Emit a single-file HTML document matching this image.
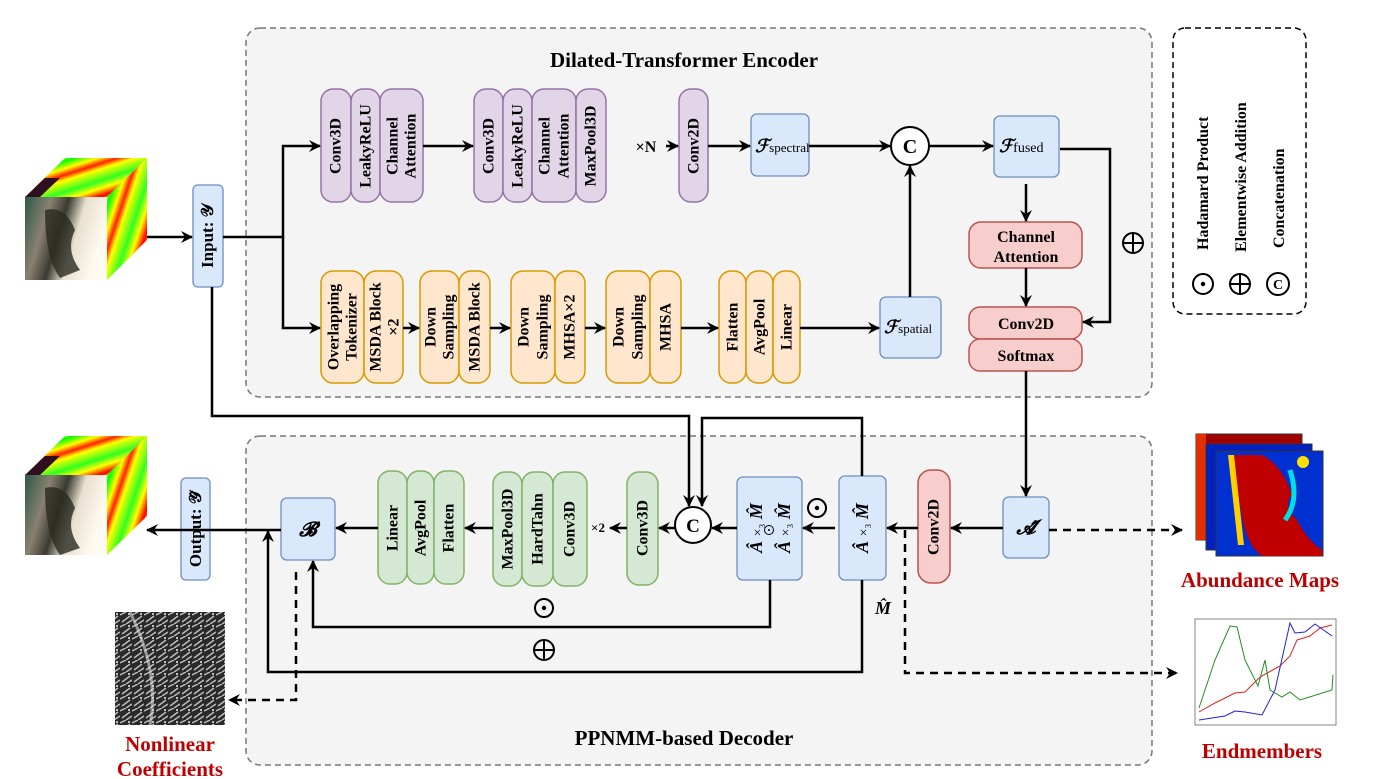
<!DOCTYPE html>
<html><head><meta charset="utf-8"><style>
html,body{margin:0;padding:0;background:#fff;}
svg{display:block;font-family:"Liberation Serif",serif;font-weight:bold;}
</style></head><body>
<svg width="1395" height="779" viewBox="0 0 1395 779" xmlns="http://www.w3.org/2000/svg">
<defs>
<marker id="ar" viewBox="0 0 12 12" refX="11" refY="6" markerWidth="12" markerHeight="12" markerUnits="userSpaceOnUse" orient="auto">
<path d="M0,0 L12,6 L0,12 L4,6 z" fill="#000"/></marker>
<linearGradient id="stripe" x1="0" y1="0" x2="1" y2="1">
<stop offset="0" stop-color="#ff0000"/><stop offset="0.12" stop-color="#ffff00"/><stop offset="0.2" stop-color="#00ff00"/><stop offset="0.3" stop-color="#ffff00"/><stop offset="0.38" stop-color="#ff2000"/><stop offset="0.45" stop-color="#ffff00"/><stop offset="0.6" stop-color="#30ff20"/><stop offset="0.7" stop-color="#ffff00"/><stop offset="0.8" stop-color="#ff0000"/><stop offset="0.9" stop-color="#ffff00"/><stop offset="1" stop-color="#00ff40"/></linearGradient>
<linearGradient id="front" x1="0" y1="0" x2="1" y2="0.3">
<stop offset="0" stop-color="#2c5a48"/><stop offset="0.3" stop-color="#8a8070"/><stop offset="0.5" stop-color="#3a3a30"/><stop offset="0.7" stop-color="#e8e0d0"/><stop offset="1" stop-color="#fffaf0"/></linearGradient>
<pattern id="noise" width="12" height="12" patternUnits="userSpaceOnUse">
<rect width="12" height="12" fill="#2a2a2a"/><path d="M0,3 L6,0 M2,10 L10,4 M6,12 L12,8" stroke="#bbb" stroke-width="1.5"/><circle cx="9" cy="2" r="1" fill="#eee"/></pattern>
</defs>

<rect x="246" y="28" width="906" height="369" rx="14" fill="#f4f4f4" stroke="#777" stroke-width="1.5" stroke-dasharray="6,4"/>
<rect x="246" y="436" width="906" height="329" rx="14" fill="#f4f4f4" stroke="#777" stroke-width="1.5" stroke-dasharray="6,4"/>
<text x="684" y="67" font-size="21" text-anchor="middle">Dilated-Transformer Encoder</text>
<text x="684" y="745" font-size="21" text-anchor="middle">PPNMM-based Decoder</text>

<rect x="1173" y="28" width="133" height="286" rx="12" fill="#fff" stroke="#000" stroke-width="1.5" stroke-dasharray="6,4"/>
<g font-size="16">
<text transform="translate(1208,250) rotate(-90)">Hadamard Product</text>
<text transform="translate(1246,252) rotate(-90)">Elementwise Addition</text>
<text transform="translate(1284,248) rotate(-90)">Concatenation</text>
</g>
<g stroke="#000" stroke-width="2" fill="none">
<circle cx="1203" cy="284" r="10"/><circle cx="1240" cy="284" r="10"/><line x1="1230" y1="284" x2="1250" y2="284"/><line x1="1240" y1="274" x2="1240" y2="294"/><circle cx="1278" cy="284" r="11"/>
</g>
<circle cx="1203" cy="284" r="2.2"/>
<text x="1278" y="289" font-size="14" text-anchor="middle">C</text>

<polygon points="25,197 65,158 147,158 107,197" fill="url(#stripe)"/>
<polygon points="25,197 45,178 60,178 40,197" fill="#301020"/>
<polygon points="107,197 147,158 147,240 107,280" fill="url(#stripe)"/>
<rect x="25" y="197" width="82" height="83" fill="url(#front)"/>
<path d="M45,210 q20,-5 30,20 q-10,20 5,40 l-20,8 q-15,-20 -15,-68z" fill="#2a2a22" opacity="0.8"/>
<polygon points="25,475 65,436 147,436 107,475" fill="url(#stripe)"/>
<polygon points="25,475 45,456 60,456 40,475" fill="#301020"/>
<polygon points="107,475 147,436 147,516 107,555" fill="url(#stripe)"/>
<rect x="25" y="475" width="82" height="80" fill="url(#front)"/>
<path d="M45,488 q20,-5 30,20 q-10,20 5,40 l-20,7 q-15,-20 -15,-67z" fill="#2a2a22" opacity="0.8"/>

<rect x="115" y="612" width="110" height="113" fill="url(#noise)"/>
<path d="M130,612 q30,60 20,113" stroke="#ddd" stroke-width="3" fill="none" opacity="0.6"/>
<text x="170" y="751" font-size="21" fill="#c00000" text-anchor="middle">Nonlinear</text>
<text x="170" y="776" font-size="21" fill="#c00000" text-anchor="middle">Coefficients</text>

<rect x="1196" y="434" width="106" height="106" fill="#a00000" stroke="#333"/>
<rect x="1196" y="434" width="10" height="106" fill="#e03000"/>
<rect x="1206" y="444" width="106" height="106" fill="#0020c0" stroke="#333"/>
<rect x="1216" y="451" width="107" height="105" fill="#0030d0" stroke="#333"/>
<path d="M1232,455 l30,0 q20,10 30,40 q-10,10 5,25 q10,20 25,30 l0,6 l-60,0 q-15,-10 -20,-40 q-5,-30 -10,-61z" fill="#c00000"/>
<path d="M1228,455 l6,0 l10,90 l-6,0z" fill="#ffd000"/>
<path d="M1290,470 q10,30 -5,50" stroke="#00e0e0" stroke-width="5" fill="none"/>
<circle cx="1303" cy="462" r="6" fill="#ffe000"/>
<text x="1260" y="587" font-size="21" fill="#c00000" text-anchor="middle">Abundance Maps</text>

<rect x="1195" y="619" width="141" height="106" fill="#fff" stroke="#666" stroke-width="0.8"/>
<g fill="none" stroke-width="1">
<polyline stroke="#e02020" points="1199,712 1215,703 1235,693 1245,692 1260,677 1280,666 1290,656 1297,640 1310,636 1320,628 1332,625"/>
<polyline stroke="#2020e0" points="1199,720 1225,716 1235,711 1245,712 1262,715 1275,690 1290,623 1295,633 1305,632 1315,624 1332,636"/>
<polyline stroke="#209020" points="1199,708 1205,690 1215,660 1230,626 1237,627 1245,660 1258,686 1265,660 1270,690 1282,697 1290,692 1300,700 1332,690 1333,675"/>
</g>
<text x="1262" y="758" font-size="21" fill="#c00000" text-anchor="middle">Endmembers</text>

<g fill="#dae8fc" stroke="#6c8ebf" stroke-width="1.3">
<rect x="193" y="185" width="30" height="102" rx="5"/>
<rect x="181" y="478" width="29" height="102" rx="5"/>
<rect x="751" y="114" width="58" height="62" rx="6"/>
<rect x="880" y="297" width="61" height="61" rx="6"/>
<rect x="994" y="116" width="65" height="61" rx="6"/>
<rect x="1003" y="497" width="46" height="61" rx="6"/>
<rect x="839" y="476" width="47" height="104" rx="6"/>
<rect x="737" y="477" width="65" height="103" rx="6"/>
<rect x="281" y="498" width="54" height="62" rx="6"/>
</g>
<g font-size="17">
<text transform="translate(213,236) rotate(-90)" text-anchor="middle">Input: 𝒴</text>
<text transform="translate(201,529) rotate(-90)" text-anchor="middle">Output: 𝒴̂</text>
<text x="755" y="152" font-size="18" font-style="italic">ℱ<tspan font-size="13" font-style="normal" font-weight="normal">spectral</tspan></text>
<text x="884" y="333" font-size="18" font-style="italic">ℱ<tspan font-size="13" font-style="normal" font-weight="normal">spatial</tspan></text>
<text x="999" y="152" font-size="18" font-style="italic">ℱ<tspan font-size="14" font-style="normal" font-weight="normal">fused</tspan></text>
<text x="1026" y="534" font-size="20" font-style="italic" text-anchor="middle">𝓐̂</text>
<text x="308" y="536" font-size="20" font-style="italic" text-anchor="middle">𝓑̂</text>
<text transform="translate(868,528) rotate(-90)" text-anchor="middle" font-size="18" font-style="italic">Â <tspan font-style="normal" font-weight="normal" font-size="14">×₃</tspan> M̂</text>
<text transform="translate(762,528) rotate(-90)" text-anchor="middle" font-size="18" font-style="italic">Â <tspan font-style="normal" font-weight="normal" font-size="14">×₃</tspan> M̂</text>
<text transform="translate(790,528) rotate(-90)" text-anchor="middle" font-size="18" font-style="italic">Â <tspan font-style="normal" font-weight="normal" font-size="14">×₃</tspan> M̂</text>
</g>
<circle cx="769" cy="530" r="4.5" fill="none" stroke="#000" stroke-width="1"/><circle cx="769" cy="530" r="1" />

<g fill="#e1d5e7" stroke="#9673a6" stroke-width="1.5">
<rect x="321" y="89" width="30" height="113" rx="12"/><rect x="351" y="89" width="29" height="113" rx="12"/><rect x="380" y="89" width="43" height="113" rx="12"/>
<rect x="474" y="89" width="29" height="113" rx="12"/><rect x="503" y="89" width="29" height="113" rx="12"/><rect x="532" y="89" width="44" height="113" rx="12"/><rect x="576" y="89" width="30" height="113" rx="12"/>
<rect x="679" y="89" width="29" height="113" rx="12"/>
</g>
<g fill="#ffe6cc" stroke="#d79b00" stroke-width="1.5">
<rect x="321" y="271" width="43" height="112" rx="12"/><rect x="364" y="271" width="39" height="112" rx="12"/>
<rect x="420" y="271" width="39" height="112" rx="12"/><rect x="459" y="271" width="31" height="112" rx="12"/>
<rect x="511" y="271" width="44" height="112" rx="12"/><rect x="555" y="271" width="30" height="112" rx="12"/>
<rect x="606" y="271" width="44" height="112" rx="12"/><rect x="650" y="271" width="31" height="112" rx="12"/>
<rect x="719" y="271" width="27" height="112" rx="12"/><rect x="746" y="271" width="27" height="112" rx="12"/><rect x="773" y="271" width="27" height="112" rx="12"/>
</g>
<g fill="#f8cecc" stroke="#b85450" stroke-width="1.5">
<rect x="969" y="222" width="113" height="46" rx="12"/>
<rect x="969" y="307" width="113" height="32" rx="11"/>
<rect x="969" y="339" width="113" height="32" rx="11"/>
<rect x="918" y="470" width="32" height="113" rx="13"/>
</g>
<g fill="#d5e8d4" stroke="#82b366" stroke-width="1.5">
<rect x="378" y="471" width="29" height="113" rx="12"/><rect x="407" y="471" width="27" height="113" rx="12"/><rect x="434" y="471" width="30" height="113" rx="12"/>
<rect x="493" y="472" width="29" height="114" rx="12"/><rect x="522" y="472" width="31" height="114" rx="12"/><rect x="553" y="472" width="34" height="114" rx="12"/>
<rect x="627" y="472" width="31" height="113" rx="12"/>
</g>

<g font-size="16" text-anchor="middle" dominant-baseline="central">
<text transform="translate(336,146) rotate(-90)">Conv3D</text>
<text transform="translate(366,146) rotate(-90)">LeakyReLU</text>
<text transform="translate(393,146) rotate(-90)">Channel</text><text transform="translate(411,146) rotate(-90)">Attention</text>
<text transform="translate(489,146) rotate(-90)">Conv3D</text>
<text transform="translate(518,146) rotate(-90)">LeakyReLU</text>
<text transform="translate(545,146) rotate(-90)">Channel</text><text transform="translate(564,146) rotate(-90)">Attention</text>
<text transform="translate(591,146) rotate(-90)">MaxPool3D</text>
<text transform="translate(694,146) rotate(-90)">Conv2D</text>

<text transform="translate(334,327) rotate(-90)">Overlapping</text><text transform="translate(352,327) rotate(-90)">Tokenizer</text>
<text transform="translate(376,327) rotate(-90)">MSDA Block</text><text transform="translate(394,327) rotate(-90)">×2</text>
<text transform="translate(431,327) rotate(-90)">Down</text><text transform="translate(449,327) rotate(-90)">Sampling</text>
<text transform="translate(475,327) rotate(-90)">MSDA Block</text>
<text transform="translate(524,327) rotate(-90)">Down</text><text transform="translate(543,327) rotate(-90)">Sampling</text>
<text transform="translate(570,327) rotate(-90)">MHSA×2</text>
<text transform="translate(619,327) rotate(-90)">Down</text><text transform="translate(638,327) rotate(-90)">Sampling</text>
<text transform="translate(666,327) rotate(-90)">MHSA</text>
<text transform="translate(733,327) rotate(-90)">Flatten</text>
<text transform="translate(760,327) rotate(-90)">AvgPool</text>
<text transform="translate(787,327) rotate(-90)">Linear</text>

<text transform="translate(934,527) rotate(-90)">Conv2D</text>
<text transform="translate(643,528) rotate(-90)">Conv3D</text>
<text transform="translate(508,529) rotate(-90)">MaxPool3D</text>
<text transform="translate(538,529) rotate(-90)">HardTahn</text>
<text transform="translate(570,529) rotate(-90)">Conv3D</text>
<text transform="translate(393,528) rotate(-90)">Linear</text>
<text transform="translate(421,528) rotate(-90)">AvgPool</text>
<text transform="translate(449,528) rotate(-90)">Flatten</text>
</g>
<g font-size="16" text-anchor="middle">
<text x="1026" y="242">Channel</text><text x="1026" y="262">Attention</text>
<text x="1026" y="329">Conv2D</text>
<text x="1026" y="361">Softmax</text>
<text x="646" y="152">×N</text>
<text x="598" y="532" font-size="13">×2</text>
<text x="883" y="614" font-size="18" font-style="italic">M̂</text>
</g>

<g fill="#fff" stroke="#000" stroke-width="2">
<circle cx="910" cy="146" r="19"/><circle cx="693" cy="525" r="18"/>
</g>
<text x="910" y="153" font-size="20" text-anchor="middle">C</text>
<text x="693" y="532" font-size="19" text-anchor="middle">C</text>
<g stroke="#000" stroke-width="2" fill="none">
<circle cx="1133" cy="243" r="10"/><line x1="1123" y1="243" x2="1143" y2="243"/><line x1="1133" y1="233" x2="1133" y2="253"/>
<circle cx="544" cy="650" r="10"/><line x1="534" y1="650" x2="554" y2="650"/><line x1="544" y1="640" x2="544" y2="660"/>
<circle cx="544" cy="608" r="9"/><circle cx="817" cy="508" r="9"/>
</g>
<circle cx="544" cy="608" r="2.2"/><circle cx="817" cy="508" r="2.2"/>

<g stroke="#000" stroke-width="2.5" fill="none">
<line x1="147" y1="237" x2="192" y2="237" marker-end="url(#ar)"/>
<polyline points="223,237 283,237 283,146 320,146" marker-end="url(#ar)"/>
<polyline points="283,237 283,328 320,328" marker-end="url(#ar)"/>
<line x1="423" y1="146" x2="473" y2="146" marker-end="url(#ar)"/>
<line x1="666" y1="146" x2="678" y2="146" marker-end="url(#ar)"/>
<line x1="708" y1="146" x2="750" y2="146" marker-end="url(#ar)"/>
<line x1="809" y1="146" x2="890" y2="146" marker-end="url(#ar)"/>
<line x1="929" y1="146" x2="993" y2="146" marker-end="url(#ar)"/>
<line x1="403" y1="328" x2="419" y2="328" marker-end="url(#ar)"/>
<line x1="490" y1="328" x2="510" y2="328" marker-end="url(#ar)"/>
<line x1="585" y1="328" x2="605" y2="328" marker-end="url(#ar)"/>
<line x1="681" y1="328" x2="718" y2="328" marker-end="url(#ar)"/>
<line x1="800" y1="328" x2="879" y2="328" marker-end="url(#ar)"/>
<line x1="910" y1="297" x2="910" y2="166" marker-end="url(#ar)"/>
<line x1="1026" y1="184" x2="1026" y2="221" marker-end="url(#ar)"/>
<line x1="1026" y1="268" x2="1026" y2="306" marker-end="url(#ar)"/>
<polyline points="1060,149 1110,149 1110,322 1083,322" marker-end="url(#ar)"/>
<line x1="1026" y1="371" x2="1026" y2="496" marker-end="url(#ar)"/>
<polyline points="212,287 212,416 689,416 689,506" marker-end="url(#ar)"/>
<polyline points="862,476 862,418 702,418 702,506" marker-end="url(#ar)"/>
<line x1="1003" y1="528" x2="951" y2="528" marker-end="url(#ar)"/>
<line x1="918" y1="528" x2="887" y2="528" marker-end="url(#ar)"/>
<line x1="835" y1="528" x2="803" y2="528" marker-end="url(#ar)"/>
<line x1="737" y1="528" x2="712" y2="528" marker-end="url(#ar)"/>
<line x1="675" y1="528" x2="659" y2="528" marker-end="url(#ar)"/>
<line x1="627" y1="528" x2="610" y2="528" marker-end="url(#ar)"/>
<line x1="493" y1="528" x2="465" y2="528" marker-end="url(#ar)"/>
<line x1="378" y1="528" x2="336" y2="528" marker-end="url(#ar)"/>
<line x1="281" y1="530" x2="147" y2="530" marker-end="url(#ar)"/>
<polyline points="770,580 770,627 313,627 313,561" marker-end="url(#ar)"/>
<polyline points="862,580 862,672 268,672 268,531" marker-end="url(#ar)"/>
</g>
<g stroke="#000" stroke-width="2.5" fill="none" stroke-dasharray="8,6">
<polyline points="296,572 296,700 229,700" marker-end="url(#ar)"/>
<polyline points="905,530 905,673 1177,673" marker-end="url(#ar)"/>
<line x1="1049" y1="530" x2="1182" y2="530" marker-end="url(#ar)"/>
</g>
</svg>
</body></html>
